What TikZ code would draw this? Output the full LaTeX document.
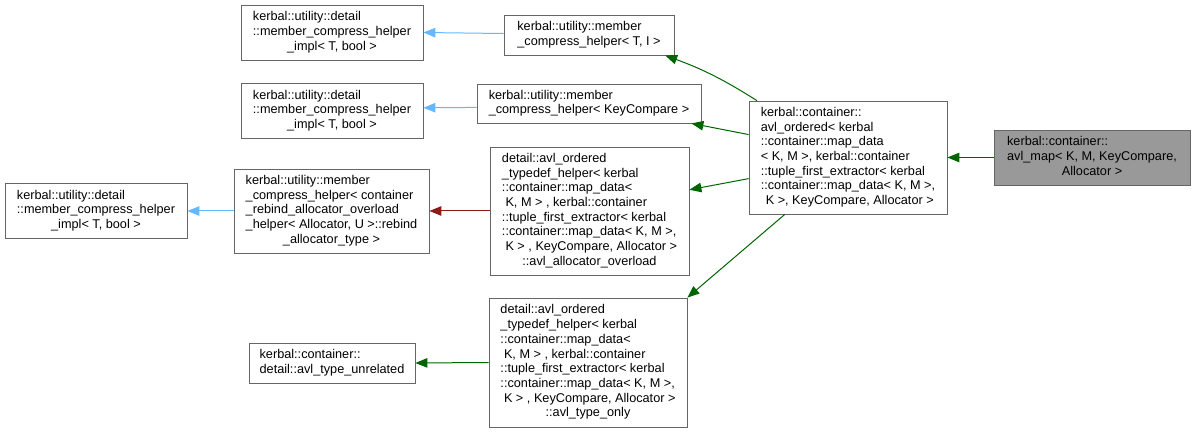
\documentclass[tikz,border=0pt]{standalone}
\usepackage{fontspec}
\setmainfont{Liberation Sans}
\usetikzlibrary{arrows.meta}
\definecolor{boxborder}{HTML}{666666}
\definecolor{boxfill}{HTML}{999999}
\definecolor{eblue}{HTML}{63B8FF}
\definecolor{egreen}{HTML}{006400}
\definecolor{ered}{HTML}{8B1A1A}
\begin{document}
\begin{tikzpicture}[x=1pt,y=-1pt,
  cls/.style={draw=boxborder, line width=0.8pt, fill=white, inner sep=0pt,
    font=\fontsize{12.7}{14.7}\selectfont, anchor=center},
  inh/.style={-{Triangle[length=12pt,width=9.5pt]}, line width=1pt}]
\useasboundingbox (0,0) rectangle (1195,433);

\node[cls, minimum width=182pt, minimum height=55pt] (A1) at (332,32.5)
  {\begin{tabular}{@{}l@{}}kerbal::utility::detail\\::member\_compress\_helper\\\multicolumn{1}{@{}c@{}}{\_impl< T, bool >}\end{tabular}};
\node[cls, minimum width=182pt, minimum height=55pt] (A2) at (332,111)
  {\begin{tabular}{@{}l@{}}kerbal::utility::detail\\::member\_compress\_helper\\\multicolumn{1}{@{}c@{}}{\_impl< T, bool >}\end{tabular}};
\node[cls, minimum width=182pt, minimum height=55pt] (A3) at (96,211)
  {\begin{tabular}{@{}l@{}}kerbal::utility::detail\\::member\_compress\_helper\\\multicolumn{1}{@{}c@{}}{\_impl< T, bool >}\end{tabular}};

\node[cls, minimum width=170pt, minimum height=40pt] (B1) at (589,35)
  {\begin{tabular}{@{}l@{}}kerbal::utility::member\\\_compress\_helper< T, I >\end{tabular}};
\node[cls, minimum width=224pt, minimum height=39pt] (B2) at (589,103.5)
  {\begin{tabular}{@{}l@{}}kerbal::utility::member\\\_compress\_helper< KeyCompare >\end{tabular}};
\node[cls, minimum width=195pt, minimum height=84pt] (B3) at (331.5,211)
  {\begin{tabular}{@{}l@{}}kerbal::utility::member\\\_compress\_helper< container\\\_rebind\_allocator\_overload\\\_helper< Allocator, U >::rebind\\\multicolumn{1}{@{}c@{}}{\_allocator\_type >}\end{tabular}};

\node[cls, minimum width=199pt, minimum height=128pt] (C1) at (589.5,211)
  {\begin{tabular}{@{}l@{}}detail::avl\_ordered\\\_typedef\_helper< kerbal\\::container::map\_data<\\\ K, M > , kerbal::container\\::tuple\_first\_extractor< kerbal\\::container::map\_data< K, M >,\\\ K > , KeyCompare, Allocator >\\\multicolumn{1}{@{}c@{}}{::avl\_allocator\_overload}\end{tabular}};
\node[cls, minimum width=198pt, minimum height=129pt] (C2) at (588,362.5)
  {\begin{tabular}{@{}l@{}}detail::avl\_ordered\\\_typedef\_helper< kerbal\\::container::map\_data<\\\ K, M > , kerbal::container\\::tuple\_first\_extractor< kerbal\\::container::map\_data< K, M >,\\\ K > , KeyCompare, Allocator >\\\multicolumn{1}{@{}c@{}}{::avl\_type\_only}\end{tabular}};
\node[cls, minimum width=166pt, minimum height=40pt] (D) at (332,363)
  {\begin{tabular}{@{}l@{}}kerbal::container::\\detail::avl\_type\_unrelated\end{tabular}};

\node[cls, minimum width=198pt, minimum height=113pt] (O) at (848,157.5)
  {\begin{tabular}{@{}l@{}}kerbal::container::\\avl\_ordered< kerbal\\::container::map\_data\\< K, M >, kerbal::container\\::tuple\_first\_extractor< kerbal\\::container::map\_data< K, M >,\\\multicolumn{1}{@{}c@{}}{\ K >, KeyCompare, Allocator >}\end{tabular}};
\node[cls, fill=boxfill, minimum width=196pt, minimum height=55pt] (M) at (1092,157.5)
  {\begin{tabular}{@{}l@{}}kerbal::container::\\avl\_map< K, M, KeyCompare,\\\multicolumn{1}{@{}c@{}}{Allocator >}\end{tabular}};

\draw[inh, egreen] (M.west) -- (O.east);
\draw[inh, egreen] (O.148) to[bend right=6] (B1.-15);
\draw[inh, egreen] (O.167) -- (B2.-11);
\draw[inh, egreen] (O.192) -- (C1.12);
\draw[inh, egreen] (O.222) -- (C2.north east);
\draw[inh, eblue] (B1.179) -- (A1.east);
\draw[inh, eblue] (B2.182) -- (A2.2);
\draw[inh, ered] (C1.west) -- (B3.east);
\draw[inh, eblue] (B3.west) -- (A3.east);
\draw[inh, egreen] (C2.west) -- (D.east);
\end{tikzpicture}
\end{document}
